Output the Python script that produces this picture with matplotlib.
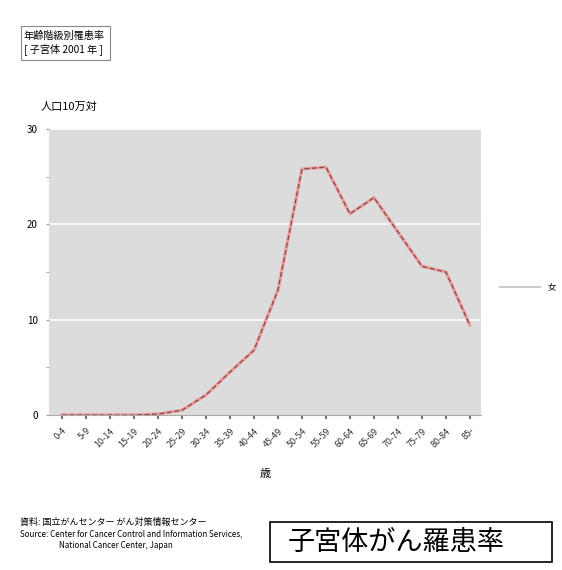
import matplotlib.pyplot as plt
from matplotlib.patches import Rectangle

plt.rcParams["font.family"] = ["Noto Sans CJK JP", "DejaVu Sans"]

AGE_GROUPS = ["0-4", "5-9", "10-14", "15-19", "20-24", "25-29", "30-34", "35-39",
              "40-44", "45-49", "50-54", "55-59", "60-64", "65-69", "70-74",
              "75-79", "80-84", "85-"]
RATE = [0.0, 0.0, 0.0, 0.0, 0.1, 0.5, 2.1, 4.5, 6.8, 13.1, 25.8, 26.0,
        21.1, 22.8, 19.2, 15.6, 15.0, 9.4]
Y_TICKS = [0, 10, 20, 30]

W, H = 562, 570
fig = plt.figure(figsize=(W / 100, H / 100), dpi=100)


def px(x, y):
    # pixel coords (from top-left) -> figure fraction
    return x / W, 1 - y / H


left, top = px(49, 129)
right, bottom = px(481, 415)
ax = fig.add_axes([left, bottom, right - left, top - bottom])
ax.set_facecolor("#dcdcdc")

x = list(range(len(AGE_GROUPS)))
ax.plot(x, RATE, color="#f0a0a0", lw=2.4, solid_capstyle="round", zorder=3)
ax.plot(x, RATE, color="#7a4a4a", lw=0.9, ls=(0, (4, 2)), zorder=4)

ax.set_xlim(-0.54, 17.46)
ax.set_ylim(0, 30)
ax.set_yticks(Y_TICKS)
ax.set_yticks([5, 15, 25], minor=True)
ax.set_yticklabels([str(v) for v in Y_TICKS], fontsize=7)
ax.tick_params(axis="y", which="both", length=2, color="#999999", pad=6)
ax.set_xticks(x)
ax.set_xticklabels(AGE_GROUPS, rotation=45, ha="right", rotation_mode="anchor",
                   fontsize=6.5, color="#333333")
ax.tick_params(axis="x", length=3, width=1.2, color="#555555", pad=5)
for yv in [10, 20, 30]:
    ax.axhline(yv, color="white", lw=1.2, zorder=1)
for side in ["top", "right", "left"]:
    ax.spines[side].set_visible(False)
ax.spines["bottom"].set_color("#aaaaaa")
ax.set_xlabel("歳", fontsize=8, labelpad=14)

# legend on the right
fig.add_artist(plt.Line2D([500 / W, 540 / W], [1 - 287 / H] * 2,
                          color="#cccccc", lw=1.5))
fig.text(*px(548, 287), "女", fontsize=6, va="center", ha="left")

# y-axis unit
fig.text(*px(41, 107), "人口10万対", fontsize=8, va="center", ha="left")

# title box (top-left)
fig.text(*px(24, 43), "年齢階級別罹患率\n[ 子宮体 2001 年 ]", fontsize=7.3,
         va="center", ha="left", linespacing=1.25)
fig.add_artist(Rectangle(px(21, 60), 89 / W, 34 / H, transform=fig.transFigure,
                         fill=False, edgecolor="#888888", lw=0.8))

# source note
fig.text(*px(20, 522), "資料: 国立がんセンター がん対策情報センター",
         fontsize=6.5, va="center", ha="left")
fig.text(*px(20, 534), "Source: Center for Cancer Control and Information Services,",
         fontsize=5.8, va="center", ha="left")
fig.text(*px(116, 545), "National Cancer Center, Japan",
         fontsize=5.8, va="center", ha="center")

# caption box
fig.add_artist(Rectangle(px(270, 562), 282 / W, 40 / H, transform=fig.transFigure,
                         fill=False, edgecolor="black", lw=1.2))
fig.text(*px(288, 542), "子宮体がん羅患率", fontsize=19.5, va="center", ha="left")

fig.savefig("out.png", dpi=100)
